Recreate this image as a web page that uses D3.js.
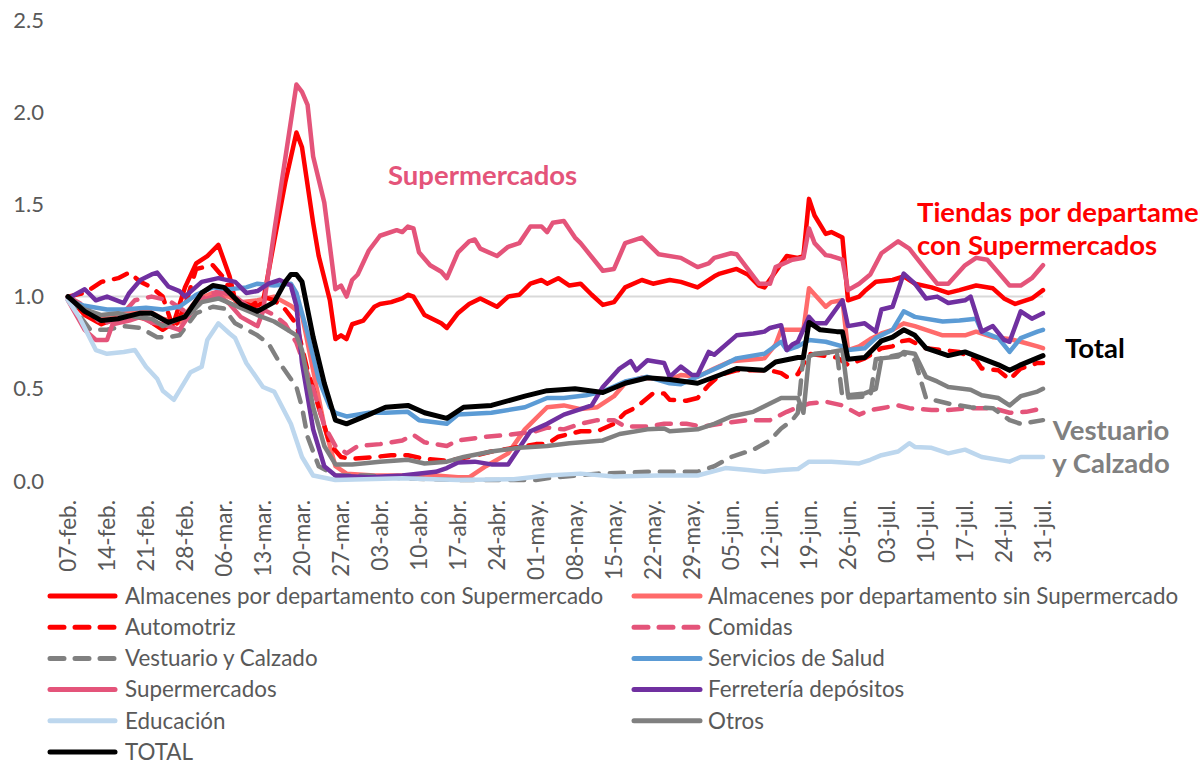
<!DOCTYPE html>
<html><head><meta charset="utf-8">
<script src="https://cdn.jsdelivr.net/npm/d3@7"></script>
<style>body{margin:0;background:#fff} svg{display:block;font-family:Lato,"Open Sans",sans-serif}</style>
</head><body><svg id="c" width="1200" height="761"></svg>
<script>
// ---- data: [day offset from 07-feb, value] ----
const tickLabels = ["07-feb.","14-feb.","21-feb.","28-feb.","06-mar.","13-mar.","20-mar.","27-mar.","03-abr.","10-abr.","17-abr.","24-abr.","01-may.","08-may.","15-may.","22-may.","29-may.","05-jun.","12-jun.","19-jun.","26-jun.","03-jul.","10-jul.","17-jul.","24-jul.","31-jul."];
const yTicks = [0,0.5,1,1.5,2,2.5];

const almConSuper = [[0,1.0],[3,0.9],[6,0.85],[10,0.9],[14,0.88],[17,0.82],[19,0.86],[21,1.05],[23,1.18],[25,1.22],[27,1.28],[29,1.11],[30,0.98],[32,0.93],[34,0.95],[35,0.97],[37,1.3],[39,1.62],[41,1.89],[42,1.81],[44,1.40],[45,1.22],[47,0.98],[48,0.77],[49,0.79],[50,0.77],[51,0.85],[53,0.87],[55,0.945],[56,0.96],[58,0.97],[60,0.99],[61,1.01],[62,1.0],[64,0.90],[67,0.855],[68,0.83],[70,0.91],[72,0.96],[74,0.99],[77,0.945],[79,1.0],[81,1.01],[83,1.07],[85,1.09],[86,1.07],[88,1.10],[90,1.06],[92,1.07],[94,1.01],[96,0.955],[98,0.97],[100,1.05],[103,1.09],[105,1.07],[108,1.09],[110,1.08],[113,1.05],[116,1.11],[117,1.125],[120,1.15],[122,1.12],[124,1.06],[125,1.05],[127,1.135],[129,1.22],[131,1.21],[132,1.22],[133,1.53],[134,1.44],[136,1.34],[137,1.35],[139,1.32],[140,0.98],[142,1.0],[143,1.03],[145,1.08],[148,1.09],[150,1.11],[152,1.07],[155,1.05],[158,1.02],[160,1.035],[163,1.06],[166,1.045],[168,0.99],[170,0.96],[173,0.99],[175,1.035]];

const almSinSuper = [[0,1.0],[4,0.9],[7,0.88],[11,0.92],[14,0.93],[17,0.88],[20,0.86],[23,0.98],[26,1.02],[28,1.01],[31,0.97],[34,0.98],[37,1.0],[40,0.95],[42,0.9],[44,0.6],[46,0.3],[48,0.08],[50,0.04],[55,0.03],[60,0.03],[66,0.03],[70,0.02],[72,0.02],[75,0.08],[79,0.15],[82,0.28],[86,0.40],[89,0.41],[92,0.39],[95,0.40],[98,0.46],[100,0.53],[103,0.56],[108,0.55],[110,0.575],[113,0.565],[116,0.61],[119,0.65],[125,0.665],[127,0.74],[128,0.82],[132,0.82],[133,1.045],[136,0.945],[137,0.97],[139,0.98],[140,0.71],[142,0.73],[144,0.77],[146,0.80],[148,0.82],[150,0.855],[152,0.84],[154,0.82],[157,0.79],[161,0.79],[163,0.81],[166,0.78],[169,0.77],[171,0.755],[174,0.73],[175,0.72]];

const automotriz = [[0,1.0],[3,1.02],[6,1.08],[9,1.10],[11,1.13],[13,1.08],[15,1.05],[17,1.0],[19,0.82],[21,0.95],[23,1.15],[26,1.17],[28,1.1],[30,0.98],[33,0.95],[35,1.0],[37,0.98],[39,0.93],[41,0.85],[43,0.6],[45,0.4],[47,0.2],[49,0.13],[51,0.12],[55,0.13],[58,0.14],[61,0.14],[64,0.12],[68,0.11],[72,0.13],[76,0.16],[80,0.18],[84,0.2],[86,0.20],[88,0.24],[92,0.27],[95,0.27],[98,0.31],[100,0.37],[102,0.40],[105,0.475],[107,0.475],[108,0.44],[111,0.435],[113,0.45],[115,0.52],[117,0.575],[120,0.60],[124,0.60],[126,0.60],[128,0.585],[129,0.565],[131,0.58],[133,0.69],[138,0.67],[140,0.63],[143,0.665],[146,0.72],[148,0.73],[149,0.755],[151,0.765],[154,0.72],[157,0.71],[160,0.70],[163,0.655],[164,0.61],[167,0.60],[169,0.55],[171,0.61],[174,0.64],[175,0.64]];

const comidas = [[0,1.0],[3,0.95],[6,0.85],[9,0.88],[12,0.98],[15,1.0],[18,0.98],[21,0.92],[24,0.99],[27,1.03],[30,1.0],[33,0.93],[35,0.93],[37,0.9],[39,0.85],[41,0.75],[44,0.5],[46,0.3],[48,0.19],[50,0.15],[52,0.19],[56,0.20],[60,0.22],[62,0.25],[64,0.21],[68,0.19],[70,0.22],[75,0.24],[79,0.25],[84,0.27],[86,0.29],[89,0.28],[92,0.31],[95,0.33],[98,0.33],[100,0.295],[104,0.295],[107,0.31],[111,0.31],[114,0.295],[117,0.31],[122,0.33],[126,0.33],[129,0.375],[131,0.40],[133,0.42],[136,0.43],[139,0.41],[142,0.36],[144,0.385],[146,0.395],[149,0.41],[151,0.395],[155,0.385],[158,0.385],[162,0.395],[166,0.395],[169,0.37],[172,0.375],[175,0.395]];

const vestuario = [[0,1.0],[2,0.9],[4,0.82],[7,0.82],[10,0.84],[13,0.83],[16,0.78],[18,0.78],[20,0.79],[23,0.91],[26,0.945],[28,0.935],[30,0.855],[34,0.79],[36,0.745],[38,0.64],[41,0.51],[42,0.4],[43,0.24],[45,0.08],[48,0.03],[54,0.03],[60,0.015],[70,0.005],[84,0.005],[86,0.015],[95,0.04],[104,0.05],[113,0.05],[116,0.08],[119,0.13],[123,0.17],[126,0.22],[128,0.285],[130,0.33],[131,0.37],[132,0.68],[138,0.70],[139,0.45],[144,0.46],[145,0.66],[150,0.69],[152,0.655],[154,0.45],[158,0.42],[162,0.40],[166,0.395],[169,0.33],[171,0.31],[175,0.33]];

const salud = [[0,0.98],[3,0.95],[7,0.93],[10,0.93],[14,0.94],[17,0.93],[20,0.945],[23,1.01],[26,1.05],[29,1.04],[32,1.05],[34,1.07],[37,1.06],[40,1.07],[41,1.02],[43,0.8],[45,0.55],[47,0.4],[48,0.37],[50,0.35],[54,0.37],[57,0.37],[61,0.375],[63,0.33],[68,0.31],[70,0.36],[76,0.37],[82,0.40],[86,0.45],[89,0.45],[93,0.465],[96,0.485],[100,0.54],[104,0.565],[108,0.53],[110,0.525],[113,0.565],[117,0.62],[120,0.665],[125,0.69],[128,0.755],[129,0.71],[131,0.73],[133,0.765],[136,0.755],[139,0.73],[140,0.71],[143,0.72],[145,0.775],[148,0.82],[150,0.92],[152,0.89],[157,0.865],[160,0.87],[163,0.88],[164,0.81],[167,0.775],[169,0.70],[171,0.775],[174,0.81],[175,0.82]];

const supermercados = [[0,0.98],[3,0.82],[5,0.765],[7,0.765],[8,0.85],[11,0.87],[13,0.89],[15,0.86],[17,0.85],[20,0.82],[22,0.91],[24,0.98],[27,1.01],[29,0.96],[31,0.89],[34,0.84],[35,0.92],[37,1.35],[39,1.75],[41,2.15],[42,2.11],[43,2.04],[44,1.76],[46,1.51],[48,1.04],[49,1.06],[50,1.00],[51,1.09],[52,1.12],[54,1.25],[56,1.33],[59,1.36],[60,1.35],[61,1.38],[62,1.37],[63,1.24],[65,1.17],[67,1.135],[68,1.10],[70,1.24],[72,1.30],[73,1.31],[74,1.26],[77,1.22],[79,1.27],[81,1.29],[83,1.38],[85,1.38],[86,1.35],[87,1.40],[89,1.41],[91,1.32],[92,1.29],[96,1.14],[98,1.15],[100,1.29],[103,1.32],[106,1.23],[110,1.21],[113,1.16],[115,1.18],[116,1.21],[119,1.235],[120,1.23],[122,1.15],[124,1.07],[126,1.07],[127,1.16],[130,1.20],[132,1.21],[133,1.37],[134,1.29],[136,1.225],[137,1.22],[139,1.20],[140,1.035],[142,1.07],[144,1.12],[146,1.235],[149,1.30],[151,1.26],[154,1.145],[156,1.07],[158,1.07],[161,1.17],[163,1.21],[165,1.20],[167,1.13],[169,1.06],[171,1.06],[173,1.10],[175,1.17]];

const ferreteria = [[0,0.99],[3,1.04],[4,1.01],[5,0.98],[7,1.0],[10,0.965],[11,1.02],[13,1.09],[15,1.12],[16,1.13],[18,1.055],[20,1.03],[21,1.0],[24,1.08],[27,1.10],[30,1.08],[32,1.02],[34,1.03],[36,1.07],[38,1.09],[40,1.06],[41,0.95],[42,0.64],[44,0.28],[46,0.08],[48,0.03],[54,0.02],[60,0.03],[66,0.05],[68,0.07],[70,0.10],[73,0.105],[76,0.09],[79,0.09],[83,0.27],[86,0.31],[89,0.36],[92,0.39],[94,0.41],[96,0.51],[99,0.61],[101,0.65],[102,0.60],[104,0.655],[107,0.64],[108,0.565],[110,0.62],[112,0.575],[113,0.575],[115,0.70],[116,0.685],[120,0.79],[123,0.80],[125,0.81],[126,0.83],[128,0.845],[129,0.71],[130,0.74],[131,0.755],[133,0.89],[134,0.855],[136,0.855],[139,0.98],[140,0.84],[143,0.855],[145,0.81],[146,0.93],[148,0.945],[150,1.125],[152,1.07],[154,0.99],[156,1.0],[158,0.965],[161,0.98],[162,1.0],[164,0.81],[166,0.84],[168,0.765],[169,0.755],[171,0.92],[173,0.88],[175,0.91]];

const educacion = [[0,0.98],[2,0.89],[5,0.71],[7,0.69],[10,0.70],[12,0.71],[14,0.62],[16,0.555],[17,0.49],[19,0.44],[20,0.49],[22,0.59],[24,0.62],[25,0.765],[27,0.855],[29,0.80],[30,0.775],[32,0.64],[35,0.51],[37,0.485],[40,0.31],[42,0.13],[44,0.03],[48,0.005],[60,0.015],[70,0.005],[80,0.01],[86,0.03],[92,0.04],[98,0.025],[106,0.03],[113,0.03],[118,0.07],[122,0.06],[125,0.05],[128,0.06],[131,0.065],[133,0.105],[137,0.105],[142,0.095],[144,0.115],[146,0.14],[149,0.16],[151,0.205],[152,0.185],[155,0.18],[158,0.15],[161,0.17],[164,0.13],[169,0.105],[171,0.13],[175,0.13]];

const otros = [[0,1.0],[3,0.93],[6,0.90],[9,0.91],[12,0.89],[15,0.88],[17,0.84],[20,0.88],[22,0.91],[24,0.97],[27,0.99],[29,0.965],[34,0.90],[37,0.865],[41,0.79],[42,0.71],[44,0.40],[46,0.19],[48,0.09],[51,0.09],[56,0.105],[61,0.115],[64,0.095],[68,0.105],[71,0.13],[76,0.16],[81,0.18],[86,0.19],[90,0.205],[96,0.22],[99,0.255],[104,0.28],[107,0.285],[108,0.27],[113,0.28],[116,0.31],[119,0.35],[123,0.375],[126,0.42],[128,0.45],[131,0.45],[132,0.37],[133,0.675],[134,0.69],[137,0.70],[139,0.71],[140,0.465],[143,0.475],[145,0.50],[146,0.665],[149,0.675],[150,0.70],[152,0.69],[154,0.565],[156,0.54],[158,0.51],[162,0.495],[164,0.465],[167,0.45],[169,0.41],[171,0.46],[174,0.485],[175,0.50]];

const total = [[0,1.0],[3,0.92],[6,0.87],[9,0.88],[13,0.91],[15,0.91],[18,0.86],[21,0.89],[24,1.02],[26,1.06],[28,1.05],[31,0.96],[34,0.92],[37,0.97],[39,1.08],[40,1.12],[41,1.12],[42,1.08],[44,0.78],[46,0.53],[48,0.33],[50,0.31],[54,0.36],[57,0.40],[61,0.41],[64,0.37],[68,0.34],[71,0.40],[76,0.41],[82,0.46],[86,0.49],[91,0.50],[96,0.48],[100,0.53],[104,0.56],[108,0.55],[113,0.53],[117,0.575],[120,0.61],[125,0.60],[127,0.645],[131,0.67],[132,0.67],[133,0.86],[135,0.82],[138,0.81],[139,0.81],[140,0.66],[143,0.67],[146,0.76],[148,0.78],[150,0.82],[152,0.79],[154,0.72],[158,0.68],[161,0.70],[164,0.665],[167,0.63],[169,0.60],[171,0.63],[175,0.68]];

const seriesNames = ["Almacenes por departamento con Supermercado","Almacenes por departamento sin Supermercado","Automotriz","Comidas","Vestuario y Calzado","Servicios de Salud","Supermercados","Ferretería depósitos","Educación","Otros","TOTAL"];
const seriesData = [almConSuper, almSinSuper, automotriz, comidas, vestuario, salud, supermercados, ferreteria, educacion, otros, total];

// ---- styling ----
const colors = ["#FF0000","#FF6B6B","#FF0000","#E4547A","#808080","#5B9BD5","#E4547A","#7030A0","#BDD7EE","#808080","#000000"];
const dashed = [false,false,true,true,true,false,false,false,false,false,false];
const widths = [4.5,4.5,4.5,4.5,4.5,4.5,4.5,4.5,4.5,4.5,5];
const DASH = "14,11";

const svg = d3.select("#c");
const x = d3.scaleLinear().domain([0,175]).range([68,1043]);
const y = d3.scaleLinear().domain([0,2.5]).range([481,20]);

// reference line at 1.0
svg.append("line").attr("x1",x(0)).attr("x2",x(175)).attr("y1",y(1)).attr("y2",y(1))
  .attr("stroke","#D9D9D9").attr("stroke-width",2);

// y axis
const ya = svg.append("g").attr("transform","translate(48,0)")
  .call(d3.axisLeft(y).tickValues(yTicks).tickFormat(d3.format(".1f")).tickSize(0).tickPadding(4));
ya.select(".domain").remove();
ya.selectAll("text").attr("fill","#595959").style("font-size","22px").style("font-family","Lato");

// x axis
const xa = svg.append("g").attr("transform","translate(0,500)")
  .call(d3.axisBottom(x).tickValues(d3.range(0,176,7)).tickFormat((d,i)=>tickLabels[i]).tickSize(0));
xa.select(".domain").remove();
xa.selectAll("text").attr("fill","#595959").style("font-size","22.5px").style("font-family","Lato")
  .attr("x",0).attr("y",0).attr("dy","0.35em").attr("transform","rotate(-90)").style("text-anchor","end");

// lines
const line = d3.line().x(d=>x(d[0])).y(d=>y(d[1]));
seriesData.forEach((s,i)=>{
  svg.append("path").attr("d",line(s)).attr("fill","none")
    .attr("stroke",colors[i]).attr("stroke-width",widths[i])
    .attr("stroke-linejoin","round").attr("stroke-linecap","round")
    .attr("stroke-dasharray",dashed[i]?DASH:null);
});

// annotations
const ann = svg.append("g").style("font-family","Lato").style("font-weight","bold").style("font-size","27.5px");
ann.append("text").attr("x",388).attr("y",185).attr("fill","#E4547A").text("Supermercados");
ann.append("text").attr("x",917).attr("y",222).attr("fill","#FF0000").text("Tiendas por departamento");
ann.append("text").attr("x",917).attr("y",255).attr("fill","#FF0000").text("con Supermercados");
ann.append("text").attr("x",1065).attr("y",358).attr("fill","#000").text("Total");
ann.append("text").attr("x",1111).attr("y",440).attr("fill","#808080").attr("text-anchor","middle").text("Vestuario");
ann.append("text").attr("x",1111).attr("y",473).attr("fill","#808080").attr("text-anchor","middle").text("y Calzado");

// legend
const lg = svg.append("g").style("font-family","Lato").style("font-size","22.4px");
seriesNames.forEach((n,i)=>{
  const col = i%2, row = Math.floor(i/2);
  const x0 = col===0?48:632, x1 = col===0?117:702, tx = col===0?125:708;
  const yy = 596 + row*31.2;
  lg.append("line").attr("x1",x0+2).attr("x2",x1-2).attr("y1",yy).attr("y2",yy)
    .attr("stroke",colors[i]).attr("stroke-width",5).attr("stroke-linecap","round")
    .attr("stroke-dasharray",dashed[i]?DASH:null);
  lg.append("text").attr("x",tx).attr("y",yy).attr("dy","0.35em").attr("fill","#595959").text(n);
});
</script></body></html>
